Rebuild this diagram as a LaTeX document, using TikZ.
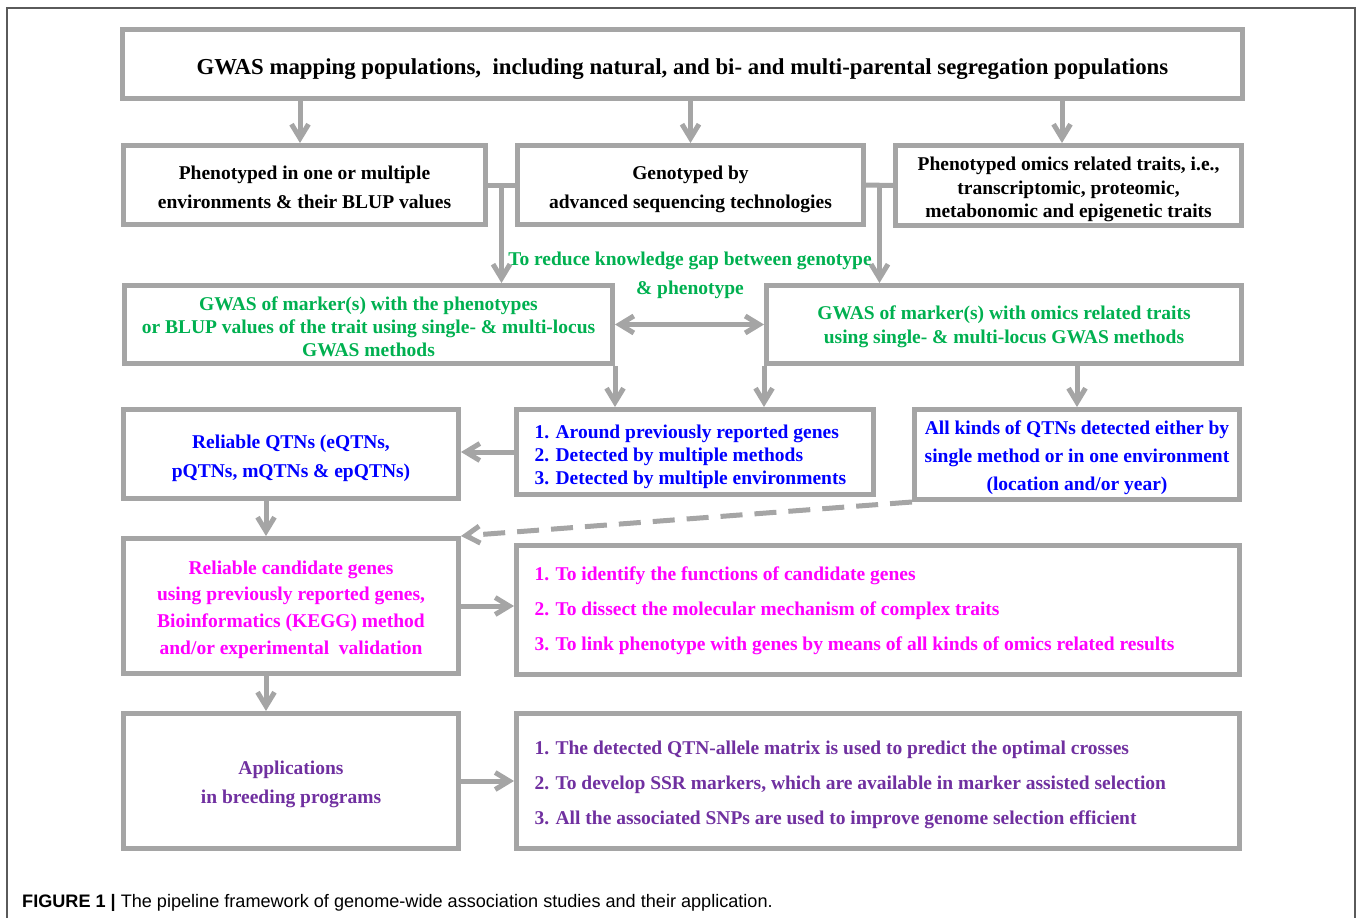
\documentclass[tikz,border=0pt]{standalone}
\usepackage{fontspec}
\setmainfont{Liberation Serif}
\newfontfamily\capfont{Liberation Sans}
\usetikzlibrary{arrows.meta,positioning,calc}
\definecolor{boxgray}{RGB}{165,165,165}
\definecolor{framegray}{RGB}{90,90,90}
\definecolor{gapgreen}{RGB}{0,176,80}
\definecolor{qtnblue}{RGB}{0,0,255}
\definecolor{genepink}{RGB}{255,0,255}
\definecolor{breedpurple}{RGB}{112,48,160}
\newcommand{\boxfont}[1]{\fontsize{19.5}{#1}\selectfont\bfseries}

\begin{document}
\begin{tikzpicture}[x=1pt, y=-1pt,
	box/.style={draw=boxgray, line width=5pt, inner sep=0pt},
	txt/.style={inner sep=0pt, align=center},
	list/.style={inner sep=0pt, outer sep=0pt, align=left},
	link/.style={draw=boxgray, line width=5pt},
	arr/.style={link, -{Straight Barb[length=14pt,width=17pt]}},
	dbl/.style={link, {Straight Barb[length=14pt,width=17pt]}-{Straight Barb[length=14pt,width=17pt]}},
	]
	\useasboundingbox (0,0) rectangle (1358,918);
	\draw[framegray, line width=1.5pt] (7,918) -- (7,8) -- (1355,8) -- (1355,918);

	% first two rows
	\node[box, minimum width=1120pt, minimum height=69pt] (pop) at (682.5, 64) {};
	\node[txt, font=\fontsize{22.8}{26}\selectfont\bfseries, yshift=-5pt] (poptxt) at (pop) {GWAS mapping populations,~ including natural, and bi- and multi-parental segregation populations};
	\node[box, minimum width=362pt, minimum height=79pt] (pheno) at (304.5, 185) {};
	\node[txt, font=\boxfont{29}, yshift=-2.5pt] (phenotxt) at (pheno) {Phenotyped in one or multiple\\environments \& their BLUP values};
	\node[box, minimum width=346pt, minimum height=79pt] (geno) at (690.5, 185) {};
	\node[txt, font=\boxfont{29}, yshift=-4pt] (genotxt) at (geno) {Genotyped by\\advanced sequencing technologies};
	\node[box, minimum width=346pt, minimum height=80pt] (omics) at (1068.5, 185.5) {};
	\node[txt, font=\boxfont{23.5}, yshift=-4pt] (omicstxt) at (omics) {Phenotyped omics related traits, i.e.,\\transcriptomic, proteomic,\\metabonomic and epigenetic traits};

	% GWAS
	\node[txt, text=gapgreen, font=\boxfont{29}] (gap) at (690, 275.5) {To reduce knowledge gap between genotype\\\& phenotype};
	\node[box, minimum width=488pt, minimum height=78pt] (gwasph) at (368.5, 324.5) {};
	\node[txt, text=gapgreen, font=\boxfont{23}, yshift=-2pt] (gwasphtxt) at (gwasph) {GWAS of marker(s) with the phenotypes\\or BLUP values of the trait using single- \& multi-locus\\GWAS methods};
	\node[box, minimum width=475pt, minimum height=78pt] (gwasom) at (1004, 324.5) {};
	\node[txt, text=gapgreen, font=\boxfont{24}, yshift=-2pt] (gwasomtxt) at (gwasom) {GWAS of marker(s) with omics related traits\\using single- \& multi-locus GWAS methods};

	% QTNs
	\node[box, minimum width=357pt, minimum height=85pt] (reliab) at (695, 452) {};
	\node[list, right=20.5pt of reliab.west, yshift=-5pt, text=qtnblue, font=\boxfont{23}] (reliabtxt) {1. Around previously reported genes\\2. Detected by multiple methods\\3. Detected by multiple environments};
	\node[box, minimum width=335pt, minimum height=89pt] (qtn) at (291, 454) {};
	\node[txt, text=qtnblue, font=\boxfont{29}, yshift=-4pt] (qtntxt) at (qtn) {Reliable QTNs (eQTNs,\\pQTNs, mQTNs \& epQTNs)};
	\node[box, minimum width=325pt, minimum height=90pt] (allqtn) at (1077, 454.5) {};
	\node[txt, text=qtnblue, font=\boxfont{28}, yshift=-3pt] (allqtntxt) at (allqtn) {All kinds of QTNs detected either by\\single method or in one environment\\(location and/or year)};

	% genes
	\node[box, minimum width=335pt, minimum height=135pt] (cand) at (291, 606) {};
	\node[txt, text=genepink, font=\boxfont{26.7}, yshift=-3.5pt] (candtxt) at (cand) {Reliable candidate genes\\using previously reported genes,\\Bioinformatics (KEGG) method\\and/or experimental~ validation};
	\node[box, minimum width=723pt, minimum height=129pt] (func) at (878, 610) {};
	\node[list, right=20.5pt of func.west, yshift=-1pt, text=genepink, font=\boxfont{35}] (functxt) {1. To identify the functions of candidate genes\\2. To dissect the molecular mechanism of complex traits\\3. To link phenotype with genes by means of all kinds of omics related results};

	% breeding
	\node[box, minimum width=335pt, minimum height=135pt] (appl) at (291, 781) {};
	\node[txt, text=breedpurple, font=\boxfont{29}, yshift=-3pt] (appltxt) at (appl) {Applications\\in breeding programs};
	\node[box, minimum width=723pt, minimum height=135pt] (breed) at (878, 781) {};
	\node[list, right=20.5pt of breed.west, yshift=-4pt, text=breedpurple, font=\boxfont{35}] (breedtxt) {1. The detected QTN-allele matrix is used to predict the optimal crosses\\2. To develop SSR markers, which are available in marker assisted selection\\3. All the associated SNPs are used to improve genome selection efficient};

	% connectors
	\draw[arr] ($(pheno.north |- pop.south)+(-4.5,0)$) -- ($(pheno.north)+(-4.5,0)$);
	\draw[arr] (geno.north |- pop.south) -- (geno.north);
	\draw[arr] ($(omics.north |- pop.south)+(-6.5,0)$) -- ($(omics.north)+(-6.5,0)$);
	\coordinate (phgeno) at ($(pheno.east)!0.5!(geno.west)$);
	\coordinate (genoom) at ($(geno.east)!0.5!(omics.west)$);
	\draw[link] (pheno.east) -- (geno.west);
	\draw[link] (geno.east) -- (omics.west);
	\draw[arr] (phgeno) -- (phgeno |- gwasph.north);
	\draw[arr] (genoom) -- (genoom |- gwasom.north);
	\draw[dbl] (gwasph.east) -- (gwasom.west);
	\draw[arr] (gwasph.south east) -- (gwasph.south east |- reliab.north);
	\draw[arr] (gwasom.south west) -- (gwasom.south west |- reliab.north);
	\draw[arr] (gwasom.south -| allqtn.north) -- (allqtn.north);
	\draw[arr] (reliab.west) -- (reliab.west -| qtn.east);
	\draw[arr, dash pattern=on 22pt off 12pt] (allqtn.south west) -- (cand.north east);
	\draw[arr] ($(qtn.south)+(-25,0)$) -- ($(cand.north)+(-25,0)$);
	\draw[arr] (cand.east) -- (cand.east -| func.west);
	\draw[arr] ($(cand.south)+(-25,0)$) -- ($(appl.north)+(-25,0)$);
	\draw[arr] (appl.east) -- (breed.west);

	\node[anchor=base west, inner sep=0pt, font=\capfont\fontsize{18.1}{22}\selectfont] (caption) at (22, 907) {\textbf{FIGURE 1 |} The pipeline framework of genome-wide association studies and their application.};
\end{tikzpicture}
\end{document}
